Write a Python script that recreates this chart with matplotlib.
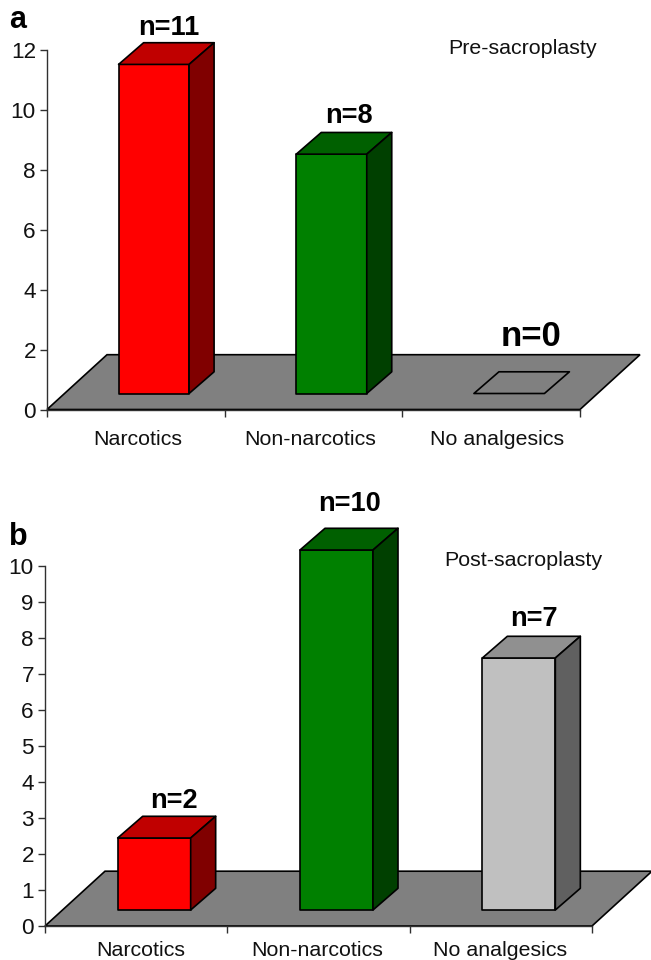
import matplotlib
matplotlib.use("Agg")
import matplotlib.pyplot as plt
from matplotlib.patches import Polygon
from matplotlib.transforms import ScaledTranslation

plt.rcParams['font.family'] = ['Liberation Sans', 'DejaVu Sans']

categories = ['Narcotics', 'Non-narcotics', 'No analgesics']
values_a = [11, 8, 0]
values_b = [2, 10, 7]
labels_a = ['n=11', 'n=8', 'n=0']
labels_b = ['n=2', 'n=10', 'n=7']
ticks_a = list(range(0, 13, 2))
ticks_b = list(range(0, 11))
FRONT = ['#FF0000', '#008000', '#C0C0C0']
TOP = ['#C00000', '#006000', '#909090']
SIDE = ['#800000', '#004000', '#606060']
AXC = '#303030'
W, H = 651, 960
DPI = 100


def panel(box, vals, labels, ticks, ymax, bar_w, label_style, cat_dx, cat_pad, letter, letter_xy, note, note_xy):
    l, r, y0, ytop = box
    ax = fig.add_axes([l / W, 1 - y0 / H, (r - l) / W, (y0 - ytop) / H])
    ax.set_xlim(0, 3)
    ax.set_ylim(0, ymax)
    ux = (r - l) / 3
    uy = (y0 - ytop) / ymax
    px = lambda p: p / ux
    py = lambda p: p / uy
    fx, fy = px(60), py(54.8)
    ax.add_patch(Polygon([(0, 0), (3, 0), (3 + fx, fy), (fx, fy)], fc='#808080', ec='black', lw=1.2, clip_on=False, zorder=1))
    bx, by = px(18), py(16)
    dx, dy = px(25), py(21.7)
    bw = px(bar_w)
    for i, v in enumerate(vals):
        x0 = i + 0.5 + bx - bw / 2
        x1 = x0 + bw
        b = by
        t = by + v
        kw = dict(ec='black', lw=1.2, clip_on=False, zorder=3, joinstyle='round')
        if v > 0:
            ax.add_patch(Polygon([(x0, b), (x1, b), (x1, t), (x0, t)], fc=FRONT[i], **kw))
            ax.add_patch(Polygon([(x0, t), (x1, t), (x1 + dx, t + dy), (x0 + dx, t + dy)], fc=TOP[i], **kw))
            ax.add_patch(Polygon([(x1, b), (x1 + dx, b + dy), (x1 + dx, t + dy), (x1, t)], fc=SIDE[i], **kw))
        else:
            ax.add_patch(Polygon([(x0, b), (x1, b), (x1 + dx, b + dy), (x0 + dx, b + dy)], fc='#808080', **kw))
        size, ldx, ldy = label_style[i]
        ax.text(x0 + bw / 2 + px(ldx), t + dy + py(ldy), labels[i], ha='center', va='bottom',
                fontsize=size, fontweight='bold', color='black', clip_on=False, zorder=4)
    ax.set_xticks([0, 1, 2, 3])
    ax.set_xticklabels([])
    ax.set_xticks([0.5, 1.5, 2.5], minor=True)
    ax.set_xticklabels(categories, minor=True, fontsize=15.4, color='#111111')
    ax.tick_params(axis='x', which='minor', length=0, pad=cat_pad)
    ax.tick_params(axis='x', which='major', length=5, width=1.0, direction='out', color=AXC)
    for lab, d in zip(ax.get_xticklabels(minor=True), cat_dx):
        lab.set_transform(lab.get_transform() + ScaledTranslation(d / DPI, 0, fig.dpi_scale_trans))
    ax.set_yticks(ticks)
    ax.tick_params(axis='y', length=5, width=1.0, labelsize=16.2, pad=3, color=AXC, labelcolor='#111111')
    for s in ('top', 'right'):
        ax.spines[s].set_visible(False)
    for s in ('left', 'bottom'):
        ax.spines[s].set_linewidth(1.0)
        ax.spines[s].set_color(AXC)
    ax.patch.set_visible(False)
    fig.text(letter_xy[0] / W, 1 - letter_xy[1] / H, letter, fontsize=22, fontweight='bold', ha='left', va='baseline')
    fig.text(note_xy[0] / W, 1 - note_xy[1] / H, note, fontsize=15.4, ha='center', va='baseline', color='#111111')


fig = plt.figure(figsize=(W / DPI, H / DPI), dpi=DPI, facecolor='white')
panel((47, 580, 409.5, 50.5), values_a, labels_a, ticks_a, 12, 70.5,
      [(19.5, 15, 2), (19.5, 17, 3), (25, 22, 19)], [2, -3.5, 6], 14.7,
      'a', (9, 28), 'Pre-sacroplasty', (523, 54))
panel((45, 592, 926, 566), values_b, labels_b, ticks_b, 10, 73,
      [(19.5, 20, 2), (19.5, 13, 11), (19.5, 15, 4)], [5, -1.5, -1], 10.7,
      'b', (9, 545), 'Post-sacroplasty', (523, 566))
fig.savefig('out.png', dpi=DPI, facecolor='white')
